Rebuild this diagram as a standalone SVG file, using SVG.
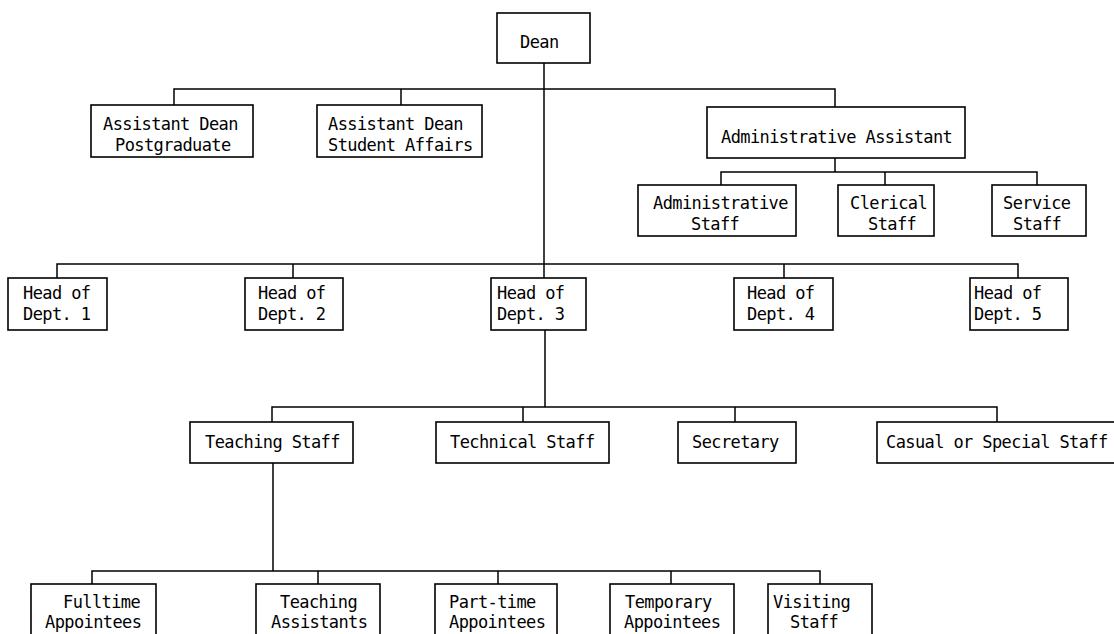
<svg xmlns="http://www.w3.org/2000/svg" width="1114" height="634" viewBox="0 0 1114 634">
<style>
.box{fill:#fff;stroke:#000;stroke-width:1.6}
.ln{fill:none;stroke:#000;stroke-width:1.5}
text{font-family:"DejaVu Sans Mono","Liberation Mono",monospace;font-size:17px;letter-spacing:-0.6px;fill:#000}
</style>
<rect width="1114" height="634" fill="#fff"/>
<g id="connectors">
<path class="ln" d="M544 63V278"/>
<path class="ln" d="M174 105V89H835V107M401 89V105"/>
<path class="ln" d="M835 158V172M721 185V172H1037V185M885 172V185"/>
<path class="ln" d="M57 278V264H1018V278M293 264V278M784 264V278"/>
<path class="ln" d="M545 330V407M272 422V407H997V422M523 407V422M735 407V422"/>
<path class="ln" d="M273 463V571M92 584V571H820V584M318 571V584M498 571V584M671 571V584"/>
</g>
<g id="dean"><rect class="box" x="497" y="13" width="93" height="50"/><text x="520" y="48">Dean</text></g>
<g id="ad-postgrad"><rect class="box" x="91" y="105" width="162" height="52"/><text x="103" y="130">Assistant Dean</text><text x="115" y="151">Postgraduate</text></g>
<g id="ad-student"><rect class="box" x="317" y="105" width="165" height="52"/><text x="328" y="130">Assistant Dean</text><text x="328" y="151">Student Affairs</text></g>
<g id="admin-assistant"><rect class="box" x="707" y="107" width="258" height="51"/><text x="721" y="143">Administrative Assistant</text></g>
<g id="admin-staff"><rect class="box" x="638" y="185" width="158" height="51"/><text x="653" y="209">Administrative</text><text x="691" y="230">Staff</text></g>
<g id="clerical-staff"><rect class="box" x="838" y="185" width="96" height="51"/><text x="850" y="209">Clerical</text><text x="868" y="230">Staff</text></g>
<g id="service-staff"><rect class="box" x="992" y="185" width="94" height="51"/><text x="1003" y="209">Service</text><text x="1013" y="230">Staff</text></g>
<g id="head1"><rect class="box" x="8" y="278" width="99" height="52"/><text x="23" y="299">Head of</text><text x="23" y="320">Dept. 1</text></g>
<g id="head2"><rect class="box" x="245" y="278" width="98" height="52"/><text x="258" y="299">Head of</text><text x="258" y="320">Dept. 2</text></g>
<g id="head3"><rect class="box" x="491" y="278" width="95" height="52"/><text x="497" y="299">Head of</text><text x="497" y="320">Dept. 3</text></g>
<g id="head4"><rect class="box" x="734" y="278" width="99" height="52"/><text x="747" y="299">Head of</text><text x="747" y="320">Dept. 4</text></g>
<g id="head5"><rect class="box" x="970" y="278" width="98" height="52"/><text x="974" y="299">Head of</text><text x="974" y="320">Dept. 5</text></g>
<g id="teaching-staff"><rect class="box" x="190" y="422" width="163" height="41"/><text x="205" y="448">Teaching Staff</text></g>
<g id="technical-staff"><rect class="box" x="436" y="422" width="173" height="41"/><text x="450" y="448">Technical Staff</text></g>
<g id="secretary"><rect class="box" x="678" y="422" width="118" height="41"/><text x="692" y="448">Secretary</text></g>
<g id="casual-staff"><rect class="box" x="877" y="422" width="250" height="41"/><text x="886" y="448">Casual or Special Staff</text></g>
<g id="fulltime"><rect class="box" x="31" y="584" width="125" height="70"/><text x="63" y="608">Fulltime</text><text x="45" y="628">Appointees</text></g>
<g id="teaching-assistants"><rect class="box" x="256" y="584" width="124" height="70"/><text x="280" y="608">Teaching</text><text x="271" y="628">Assistants</text></g>
<g id="part-time"><rect class="box" x="435" y="584" width="122" height="70"/><text x="449" y="608">Part-time</text><text x="449" y="628">Appointees</text></g>
<g id="temporary"><rect class="box" x="610" y="584" width="124" height="70"/><text x="625" y="608">Temporary</text><text x="624" y="628">Appointees</text></g>
<g id="visiting"><rect class="box" x="768" y="584" width="104" height="70"/><text x="773" y="608">Visiting</text><text x="790" y="628">Staff</text></g>
</svg>
